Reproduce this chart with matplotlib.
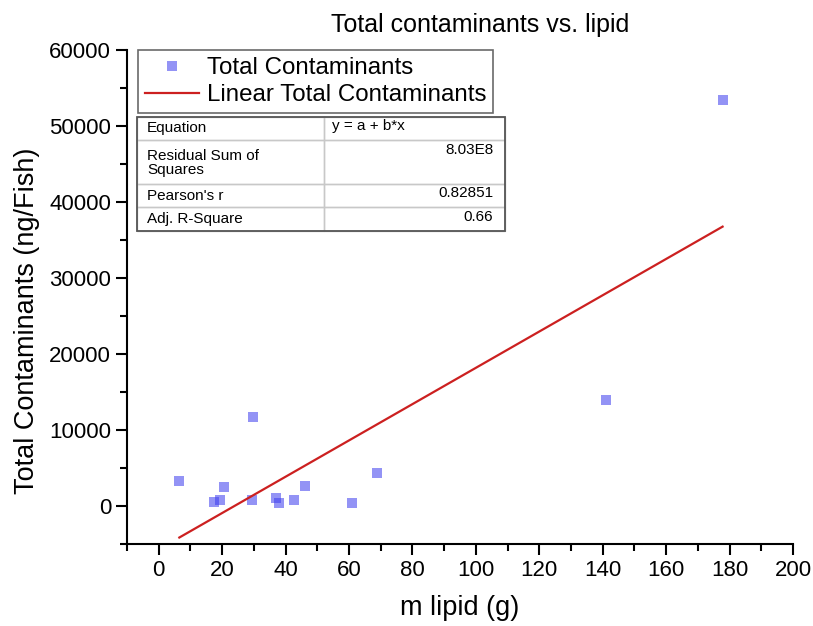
import numpy as np
import matplotlib.pyplot as plt
from matplotlib.patches import Rectangle

plt.rcParams['font.family'] = ['Liberation Sans', 'DejaVu Sans']

# datos
m_lipid = [6.5, 17.3, 19.2, 20.5, 29.6, 29.3, 37.1, 38.0, 42.6, 46.1, 60.9, 68.8, 140.9, 177.8]
total_cont = [3300, 500, 800, 2500, 11700, 800, 1050, 350, 800, 2650, 400, 4400, 13900, 53400]

# ajuste lineal (valores del grafico)
fit_a = -5700
fit_b = 238.8
fit_x = [min(m_lipid), max(m_lipid)]

stats_rows = ["Equation", "Residual Sum of\nSquares", "Pearson's r", "Adj. R-Square"]
stats_vals = ["y = a + b*x", "8.03E8", "0.82851", "0.66"]

fig = plt.figure(figsize=(8.13, 6.26), dpi=100)
ax = fig.add_axes([127/813, 82/626, 666/813, 494/626])

ax.plot(m_lipid, total_cont, 's', color='#3a3aee', alpha=0.55, markersize=7.8,
        markeredgewidth=0, label='Total Contaminants')
fx = np.array(fit_x)
ax.plot(fx, fit_a + fit_b * fx, '-', color='#cc2020', lw=1.6, label='Linear Total Contaminants')

ax.set_xlim(-10, 200)
ax.set_ylim(-5000, 60000)
ax.set_xticks(range(0, 201, 20))
ax.set_xticks(range(-10, 201, 10), minor=True)
ax.set_yticks(range(0, 60001, 10000))
ax.set_yticks(range(-5000, 60001, 5000), minor=True)
ax.spines['top'].set_visible(False)
ax.spines['right'].set_visible(False)
for s in ['left', 'bottom']:
    ax.spines[s].set_linewidth(1.5)
ax.tick_params(which='major', direction='out', length=8, width=1.5, labelsize=16)
ax.tick_params(which='minor', direction='out', length=5, width=1.5)

ax.set_xlabel('m lipid (g)', fontsize=19.5)
ax.xaxis.set_label_coords(0.5, -0.104)
ax.set_ylabel('Total Contaminants (ng/Fish)', fontsize=19.5)
ax.yaxis.set_label_coords(-0.131, 0.451)
fig.text(480/813, 1 - 32/626, 'Total contaminants vs. lipid', fontsize=18, ha='center', va='baseline')

leg = ax.legend(loc='upper left', bbox_to_anchor=(0.016, 1.0), fontsize=17.4, frameon=True,
                fancybox=False, borderpad=0.3, handlelength=2.25, handletextpad=0.3,
                labelspacing=0.2, borderaxespad=0)
leg.get_frame().set_edgecolor('#444444')
leg.get_frame().set_linewidth(1.2)

# tabla de estadisticas dibujada a mano (coordenadas de ejes)
x0, x1, xm = 0.015, 0.568, 0.296
heights = [23, 44, 23, 24]
lab_off = [11, 22.5, 11.5, 12]
val_off = [9, 10, 9, 10]
top = (544 - 117) / 494
y = top
for lab, val, h, lo, vo in zip(stats_rows, stats_vals, heights, lab_off, val_off):
    hh = h / 494
    ax.add_patch(Rectangle((x0, y - hh), xm - x0, hh, transform=ax.transAxes,
                           fill=False, edgecolor='#c8c8c8', lw=1, clip_on=False))
    ax.add_patch(Rectangle((xm, y - hh), x1 - xm, hh, transform=ax.transAxes,
                           fill=False, edgecolor='#c8c8c8', lw=1, clip_on=False))
    ax.text(x0 + 0.015, y - lo/494, lab, transform=ax.transAxes, fontsize=11,
            ha='left', va='center', linespacing=1.0)
    if lab == "Equation":
        ax.text(xm + 0.012, y - vo/494, val, transform=ax.transAxes, fontsize=11,
                ha='left', va='center')
    else:
        ax.text(x1 - 0.018, y - vo/494, val, transform=ax.transAxes, fontsize=11,
                ha='right', va='center')
    y -= hh
ax.add_patch(Rectangle((x0, y), x1 - x0, top - y, transform=ax.transAxes,
                       fill=False, edgecolor='#555555', lw=1.3, clip_on=False))

fig.savefig('out.png', dpi=100)
